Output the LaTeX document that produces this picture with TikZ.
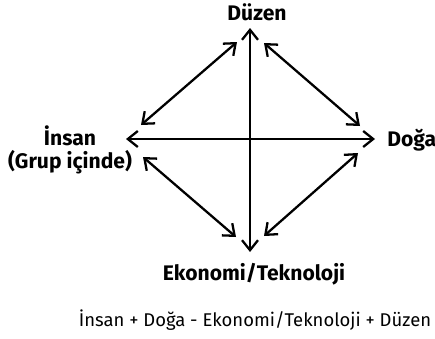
\documentclass[tikz,border=0pt]{standalone}
\usepackage{fontspec}
\setmainfont{Fira Sans}
\usepackage{tikz}
\usetikzlibrary{
	arrows.meta,
	positioning
}

\begin{document}
\begin{tikzpicture}[
		x=0.02cm, y=-0.02cm,
		>={Straight Barb[length=2.0mm,width=3.2mm]},
		axis/.style={
			<->,
			line width=1.3pt
		},
		label/.style={
			font=\fontsize{12}{13}\selectfont\bfseries,
			inner sep=0pt
		},
		formula/.style={
			font=\fontsize{10.5}{12}\selectfont,
			inner sep=0pt
		}
		]
		
		\useasboundingbox (0,0) rectangle (435,338);
		
		% Tips of the axes
		\coordinate (top) at (250,28);
		\coordinate (bottom) at (250,252);
		\coordinate (left) at (126,139);
		\coordinate (right) at (375,139);
		
		% Ends of the diagonals
		\coordinate (tl1) at (141,125);
		\coordinate (tl2) at (237,42);
		\coordinate (tr1) at (264,43);
		\coordinate (tr2) at (360,126);
		\coordinate (bl1) at (143,157);
		\coordinate (bl2) at (236,237);
		\coordinate (br1) at (358,153);
		\coordinate (br2) at (264,236);
		
		% Labels
		\node[label] (duzen) at (257,12) {Düzen};
		\node[label, anchor=west] (doga) at (387,140) {Doğa};
		\node[label, align=center] (insan) at (70,150) {İnsan\\(Grup içinde)};
		\node[label] (ekonomi) at (254,274) {Ekonomi/Teknoloji};
		\node[formula] (formul) at (255,320) {İnsan + Doğa - Ekonomi/Teknoloji + Düzen};
		
		% Axes
		\draw[axis] (bottom) -- (top);
		\draw[axis] (left) -- (right);
		
		% Diagonals
		\draw[axis] (tl1) -- (tl2);
		\draw[axis] (tr1) -- (tr2);
		\draw[axis] (bl1) -- (bl2);
		\draw[axis] (br1) -- (br2);
		
	\end{tikzpicture}
\end{document}
